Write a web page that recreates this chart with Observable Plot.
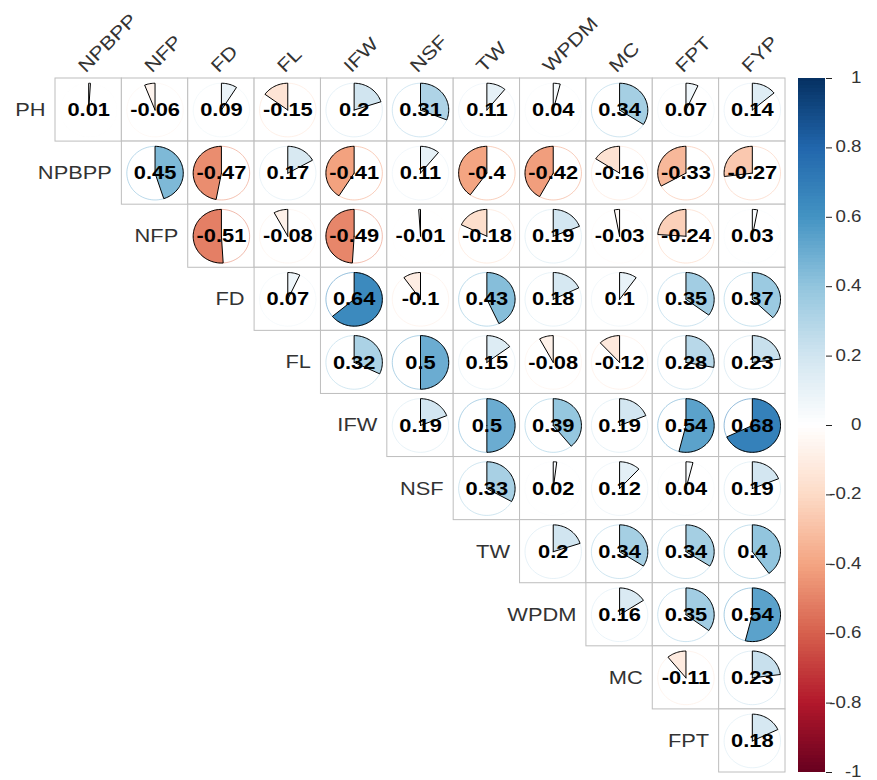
<!DOCTYPE html>
<html>
<head>
<meta charset="utf-8">
<script src="https://cdn.jsdelivr.net/npm/d3@7"></script>
<script src="https://cdn.jsdelivr.net/npm/@observablehq/plot@0.6"></script>
<style>
  body { margin: 0; background: #fff; }
  #wrap { position: relative; width: 877px; height: 780px; overflow: hidden; }
  #wrap svg { position: absolute; top: 0; }
</style>
</head>
<body>
<div id="wrap"></div>
<script>
// ---- data ----
const rowVars = ["PH","NPBPP","NFP","FD","FL","IFW","NSF","TW","WPDM","MC","FPT"];
const colVars = ["NPBPP","NFP","FD","FL","IFW","NSF","TW","WPDM","MC","FPT","FYP"];

const rowPH    = [0.01, -0.06, 0.09, -0.15, 0.2, 0.31, 0.11, 0.04, 0.34, 0.07, 0.14];
const rowNPBPP = [0.45, -0.47, 0.17, -0.41, 0.11, -0.4, -0.42, -0.16, -0.33, -0.27];
const rowNFP   = [-0.51, -0.08, -0.49, -0.01, -0.18, 0.19, -0.03, -0.24, 0.03];
const rowFD    = [0.07, 0.64, -0.1, 0.43, 0.18, 0.1, 0.35, 0.37];
const rowFL    = [0.32, 0.5, 0.15, -0.08, -0.12, 0.28, 0.23];
const rowIFW   = [0.19, 0.5, 0.39, 0.19, 0.54, 0.68];
const rowNSF   = [0.33, 0.02, 0.12, 0.04, 0.19];
const rowTW    = [0.2, 0.34, 0.34, 0.4];
const rowWPDM  = [0.16, 0.35, 0.54];
const rowMC    = [-0.11, 0.23];
const rowFPT   = [0.18];

const legendTicks  = [1, 0.8, 0.6, 0.4, 0.2, 0, -0.2, -0.4, -0.6, -0.8, -1];
const legendLabels = ["1","0.8","0.6","0.4","0.2","0","-0.2","-0.4","-0.6","-0.8","-1"];

const paletteStops  = [-1, -0.8, -0.6, -0.4, -0.2, 0, 0.2, 0.4, 0.6, 0.8, 1];
const paletteColors = ["#67001F","#B2182B","#D6604D","#F4A582","#FDDBC7","#FFFFFF",
                       "#D1E5F0","#92C5DE","#4393C3","#2166AC","#053061"];

// ---- derived tables ----
const rows = [rowPH, rowNPBPP, rowNFP, rowFD, rowFL, rowIFW, rowNSF, rowTW, rowWPDM, rowMC, rowFPT];
const cells = [];
rows.forEach((vals, i) => vals.forEach((r, k) => cells.push({id: i + "-" + (i + k), row: i, col: i + k, r})));

const R = 0.425; // pie radius as share of a cell
const circlePts = [];
const piePts = [];
for (const c of cells) {
  const nC = 96;
  for (let s = 0; s <= nC; s++) {
    const t = s / nC * 2 * Math.PI;
    circlePts.push({id: c.id, r: c.r, x: c.col + R * Math.sin(t), y: c.row - R * Math.cos(t)});
  }
  const sign = c.r >= 0 ? 1 : -1;
  const span = Math.abs(c.r) * 2 * Math.PI;
  const n = Math.max(2, Math.ceil(Math.abs(c.r) * 120));
  piePts.push({id: c.id, r: c.r, x: c.col, y: c.row});
  for (let s = 0; s <= n; s++) {
    const t = s / n * span;
    piePts.push({id: c.id, r: c.r, x: c.col + sign * R * Math.sin(t), y: c.row - R * Math.cos(t)});
  }
  piePts.push({id: c.id, r: c.r, x: c.col, y: c.row});
}

const legendSteps = d3.range(200).map(k => ({y1: -1 + k * 0.01, y2: -1 + (k + 1) * 0.01, v: -1 + (k + 0.5) * 0.01}));

const colorScale = {type: "linear", domain: paletteStops, range: paletteColors, interpolate: "rgb"};
const font = "'Liberation Sans', Arial, sans-serif";

const main = Plot.plot({
  width: 877, height: 780,
  marginLeft: 55, marginRight: 92, marginTop: 78, marginBottom: 8,
  style: {fontFamily: font, background: "transparent"},
  x: {domain: [-0.5, 10.5], axis: null},
  y: {domain: [-0.5, 10.5], reverse: true, axis: null},
  color: colorScale,
  marks: [
    Plot.rect(cells, {x1: d => d.col - 0.5, x2: d => d.col + 0.5, y1: d => d.row - 0.5, y2: d => d.row + 0.5,
                      fill: "white", stroke: "#bebebe", strokeWidth: 1}),
    Plot.line(circlePts, {x: "x", y: "y", z: "id", stroke: "r", strokeWidth: 0.9, strokeOpacity: 0.6}),
    Plot.line(piePts, {x: "x", y: "y", z: "id", fill: "r", stroke: "black", strokeWidth: 1}),
    Plot.text(cells, {x: "col", y: "row", text: d => String(d.r), fontWeight: "bold", fontSize: 19, fill: "black"}),
    Plot.text(rowVars, {x: (d, i) => i - 0.5, y: (d, i) => i, text: d => d, textAnchor: "end", dx: -10,
                        fontSize: 18.5, fill: "#333"}),
    Plot.text(colVars, {x: (d, i) => i, y: () => -0.5, text: d => d, textAnchor: "start", lineAnchor: "bottom",
                        rotate: -45, dx: -3, dy: -5, fontSize: 18.5, fill: "#333"})
  ]
});

const legend = Plot.plot({
  width: 87, height: 780,
  marginLeft: 8, marginRight: 52, marginTop: 78, marginBottom: 8,
  style: {fontFamily: font, background: "transparent"},
  y: {domain: [-1, 1], axis: null},
  color: colorScale,
  marks: [
    Plot.rect(legendSteps, {y1: "y1", y2: "y2", fill: "v", shapeRendering: "crispEdges"}),
    Plot.axisY(legendTicks, {anchor: "right", tickSize: 6, tickFormat: () => "", label: null, stroke: "#222"}),
    Plot.text(legendTicks, {y: d => d, frameAnchor: "right", dx: 36, dy: -1, text: (d, i) => legendLabels[i],
                            fontSize: 17, fill: "#333"})
  ]
});
legend.style.left = "790px";

const wrap = document.getElementById("wrap");
main.style.left = "0px";
wrap.appendChild(main);
wrap.appendChild(legend);

// the reference's glyphs are drawn a little wider than a plain Arial face
function widen(svg, factors) {
  const groups = svg.querySelectorAll('g[aria-label="text"]');
  groups.forEach((g, gi) => {
    const f = factors[gi] || 1;
    g.querySelectorAll("text").forEach(t => {
      const w = t.getComputedTextLength();
      if (w > 0) {
        t.setAttribute("textLength", (w * f).toFixed(2));
        t.setAttribute("lengthAdjust", "spacingAndGlyphs");
      }
    });
  });
}
widen(main, [1.15, 1.18, 1.18]);
widen(legend, [1.1]);
</script>
</body>
</html>
